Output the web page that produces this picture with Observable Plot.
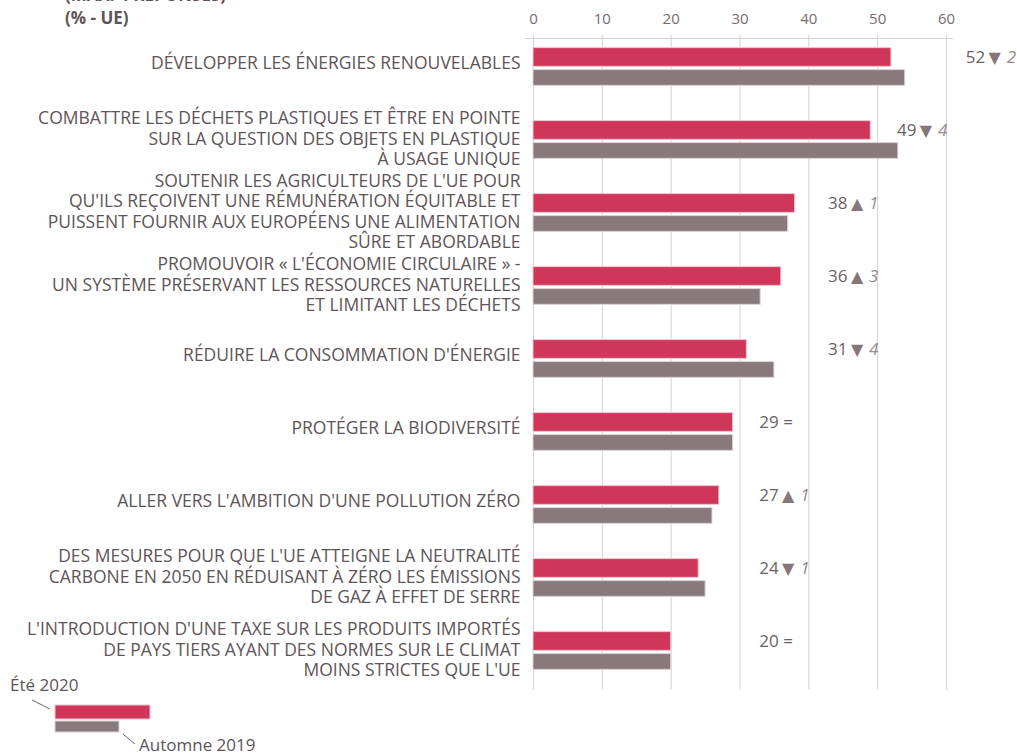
<!DOCTYPE html>
<html><head><meta charset="utf-8">
<script src="https://cdn.jsdelivr.net/npm/d3@7"></script>
<script src="https://cdn.jsdelivr.net/npm/@observablehq/plot@0.6"></script>
<style>
body{margin:0;background:#fff;font-family:"Open Sans",sans-serif;}
#wrap{position:relative;width:1017px;height:754px;overflow:hidden;}
#wrap > svg{position:absolute;left:0;top:0;}
#overlay{position:absolute;left:0;top:0;pointer-events:none;}
</style></head><body>
<div id="wrap"></div>
<script>
const categories = [
  "DÉVELOPPER LES ÉNERGIES RENOUVELABLES",
  "COMBATTRE LES DÉCHETS PLASTIQUES ET ÊTRE EN POINTE\nSUR LA QUESTION DES OBJETS EN PLASTIQUE\nÀ USAGE UNIQUE",
  "SOUTENIR LES AGRICULTEURS DE L'UE POUR\nQU'ILS REÇOIVENT UNE RÉMUNÉRATION ÉQUITABLE ET\nPUISSENT FOURNIR AUX EUROPÉENS UNE ALIMENTATION\nSÛRE ET ABORDABLE",
  "PROMOUVOIR « L'ÉCONOMIE CIRCULAIRE » -\nUN SYSTÈME PRÉSERVANT LES RESSOURCES NATURELLES\nET LIMITANT LES DÉCHETS",
  "RÉDUIRE LA CONSOMMATION D'ÉNERGIE",
  "PROTÉGER LA BIODIVERSITÉ",
  "ALLER VERS L'AMBITION D'UNE POLLUTION ZÉRO",
  "DES MESURES POUR QUE L'UE ATTEIGNE LA NEUTRALITÉ\nCARBONE EN 2050 EN RÉDUISANT À ZÉRO LES ÉMISSIONS\nDE GAZ À EFFET DE SERRE",
  "L'INTRODUCTION D'UNE TAXE SUR LES PRODUITS IMPORTÉS\nDE PAYS TIERS AYANT DES NORMES SUR LE CLIMAT\nMOINS STRICTES QUE L'UE"
];
const ete2020 = [52, 49, 38, 36, 31, 29, 27, 24, 20];
const automne2019 = [54, 53, 37, 33, 35, 29, 26, 25, 20];
const xTicks = [0, 10, 20, 30, 40, 50, 60];
const seriesNames = ["Été 2020", "Automne 2019"];
const headerLines = ["(MAX. 4 RÉPONSES)", "(% - UE)"];

const RED = "#d0365a", GREY = "#88797c", TXT = "#5e5457";

const rows = categories.map((c, i) => ({
  cat: c, ete: ete2020[i], aut: automne2019[i],
  diff: ete2020[i] - automne2019[i],
  ax: Math.floor(ete2020[i] / 10 + 1) * 10 + 2.8
}));
const changed = rows.filter(d => d.diff !== 0);
const same = rows.filter(d => d.diff === 0);
const singleLine = rows.filter(d => !d.cat.includes("\n"));
const multiLine = rows.filter(d => d.cat.includes("\n"));

const font = '"Open Sans", sans-serif';
const labelOpts = {x: 0, y: "cat", text: "cat", textAnchor: "end", dx: -13, fontSize: 17.5, lineHeight: 1.17, fill: TXT};
const plot = Plot.plot({
  width: 1017, height: 754,
  marginLeft: 533, marginRight: 71, marginTop: 38, marginBottom: 64,
  style: {fontFamily: font, background: "transparent", color: TXT},
  x: {domain: [0, 60], axis: null},
  y: {domain: categories, range: [28.4, 687.9], padding: 0, axis: null},
  marks: [
    Plot.ruleX(xTicks, {stroke: "#dcd1ce", insetTop: -3}),
    Plot.frame({anchor: "top", stroke: "#dcd1ce", insetLeft: -8, insetRight: -6}),
    Plot.axisX({anchor: "top", ticks: xTicks, tickSize: 0, tickPadding: 15, fontSize: 15, color: "#766b6e"}),
    Plot.barX(rows, {x: "ete", y: "cat", fill: RED, stroke: "#f0c6d0", strokeWidth: 1, insetTop: 17.6, insetBottom: 36.65}),
    Plot.barX(rows, {x: "aut", y: "cat", fill: GREY, stroke: "#ddd3d4", strokeWidth: 1, insetTop: 39.6, insetBottom: 17.65}),
    Plot.text(singleLine, {...labelOpts, dy: -5}),
    Plot.text(multiLine, {...labelOpts, dy: -2}),
    Plot.text(rows, {x: "ax", y: "cat", text: d => String(d.ete), textAnchor: "start", dy: -9.5, fontSize: 17, fill: "#6b6164"}),
    Plot.text(changed, {x: "ax", y: "cat", text: d => d.diff < 0 ? "▼" : "▲", textAnchor: "middle", dx: 29, dy: -9.5, fontSize: 16, fontFamily: "DejaVu Sans", fill: "#857679"}),
    Plot.text(changed, {x: "ax", y: "cat", text: d => String(Math.abs(d.diff)), textAnchor: "start", dx: 41, dy: -9.5, fontSize: 17, fontStyle: "italic", fill: "#958a8d"}),
    Plot.text(same, {x: "ax", y: "cat", text: d => "=", textAnchor: "start", dx: 24, dy: -9.5, fontSize: 17, fill: "#6b6164"})
  ]
});
document.getElementById("wrap").appendChild(plot);

// header and legend overlay
const ov = d3.select("#wrap").append("svg").attr("id", "overlay").attr("width", 1017).attr("height", 754)
  .style("font-family", font);
ov.append("text").attr("x", 65).attr("y", 1).attr("font-size", 17).attr("font-weight", "bold").attr("fill", TXT).text(headerLines[0]);
ov.append("text").attr("x", 65).attr("y", 24).attr("font-size", 17).attr("font-weight", "bold").attr("fill", TXT).text(headerLines[1]);
// legend
ov.append("text").attr("x", 10).attr("y", 691).attr("font-size", 17).attr("fill", TXT).text(seriesNames[0]);
ov.append("line").attr("x1", 32).attr("y1", 700).attr("x2", 50).attr("y2", 709).attr("stroke", "#6b6164");
ov.append("rect").attr("x", 55).attr("y", 705).attr("width", 95).attr("height", 14).attr("fill", RED).attr("stroke", "#f0c6d0");
ov.append("rect").attr("x", 55).attr("y", 721).attr("width", 64).attr("height", 11).attr("fill", GREY).attr("stroke", "#ddd3d4");
ov.append("line").attr("x1", 123).attr("y1", 734).attr("x2", 135).attr("y2", 744).attr("stroke", "#6b6164");
ov.append("text").attr("x", 139).attr("y", 751).attr("font-size", 17).attr("fill", TXT).text(seriesNames[1]);
</script>
</body></html>
